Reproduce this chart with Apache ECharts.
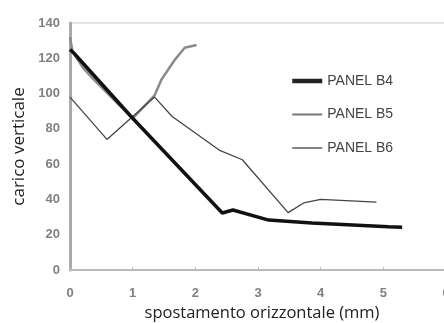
<!DOCTYPE html>
<html>
<head>
<meta charset="utf-8">
<script src="https://cdn.jsdelivr.net/npm/echarts@6/dist/echarts.min.js"></script>
<style>
html,body{margin:0;padding:0;background:#fff;}
#c{width:444px;height:323px;}
</style>
</head>
<body>
<div id="c"></div>
<script>
const seriesNames = ['PANEL B4', 'PANEL B5', 'PANEL B6'];
const xTicks = [0, 1, 2, 3, 4, 5, 6];
const yTicks = [0, 20, 40, 60, 80, 100, 120, 140];
const panelB4 = [[0, 125], [0.06, 123], [1.0, 86], [2.43, 32.3], [2.6, 34], [3.17, 28.3], [3.86, 26.6], [5.08, 24.5], [5.3, 24.3]];
const panelB5 = [[0, 132], [0.04, 124], [0.2, 115], [0.35, 109], [0.67, 97.5], [1.0, 86], [1.35, 99], [1.46, 108], [1.67, 119], [1.83, 126], [2.02, 127.5]];
const panelB6 = [[0, 98], [0.59, 74], [1.35, 98], [1.63, 87], [2.38, 68], [2.75, 62.5], [3.48, 32.5], [3.73, 38], [4.0, 40], [4.89, 38.5]];

const chart = echarts.init(document.getElementById('c'), null, {renderer: 'canvas'});
const tickFont = {fontFamily: 'Liberation Sans', fontSize: 13, fontWeight: 'bold', color: '#808080'};
const hidden = {color: 'rgba(0,0,0,0)', borderWidth: 0, opacity: 0};
chart.setOption({
  animation: false,
  backgroundColor: '#fff',
  grid: {left: 70, top: 23, right: -2, bottom: 53, show: true, borderColor: '#c4c4c4', borderWidth: 1,
         containLabel: false, outerBoundsMode: 'none'},
  legend: {
    orient: 'vertical', left: 285, top: 69, itemWidth: 30, itemHeight: 14, itemGap: 19.5,
    textStyle: {fontFamily: 'Liberation Sans', fontSize: 14, color: '#444'},
    data: [
      {name: seriesNames[0], itemStyle: hidden, lineStyle: {color: '#222', width: 4.5}},
      {name: seriesNames[1], itemStyle: hidden, lineStyle: {color: '#777', width: 2}},
      {name: seriesNames[2], itemStyle: hidden, lineStyle: {color: '#666', width: 1.6}}
    ]
  },
  xAxis: {
    type: 'value', min: xTicks[0], max: xTicks[xTicks.length - 1], interval: 1,
    name: 'spostamento orizzontale (mm)', nameLocation: 'middle', nameGap: 32,
    nameTextStyle: {fontFamily: 'Open Sans', fontSize: 16.5, color: '#222', padding: [0, 0, 0, 8]},
    axisLine: {lineStyle: {color: '#bbb', width: 2}},
    axisTick: {show: true, inside: true, length: 3, lineStyle: {color: '#bbb'}},
    axisLabel: Object.assign({margin: 17}, tickFont),
    splitLine: {show: false}
  },
  yAxis: {
    type: 'value', min: yTicks[0], max: yTicks[yTicks.length - 1], interval: 20,
    name: 'carico verticale', nameLocation: 'middle', nameGap: 37,
    nameTextStyle: {fontFamily: 'Open Sans', fontSize: 17, color: '#222'},
    axisLine: {show: true, lineStyle: {color: '#aaa', width: 3}},
    axisTick: {show: false},
    axisLabel: Object.assign({margin: 10}, tickFont),
    splitLine: {show: false}
  },
  series: [
    {name: seriesNames[0], type: 'line', data: panelB4, symbol: 'none', z: 3,
     lineStyle: {color: '#111', width: 3.5}, itemStyle: {color: '#111'}},
    {name: seriesNames[1], type: 'line', data: panelB5, symbol: 'none', z: 2,
     lineStyle: {color: '#8a8a8a', width: 2.5}, itemStyle: {color: '#8a8a8a'}},
    {name: seriesNames[2], type: 'line', data: panelB6, symbol: 'none', z: 2,
     lineStyle: {color: '#444', width: 1.3}, itemStyle: {color: '#444'}}
  ]
});
</script>
</body>
</html>
